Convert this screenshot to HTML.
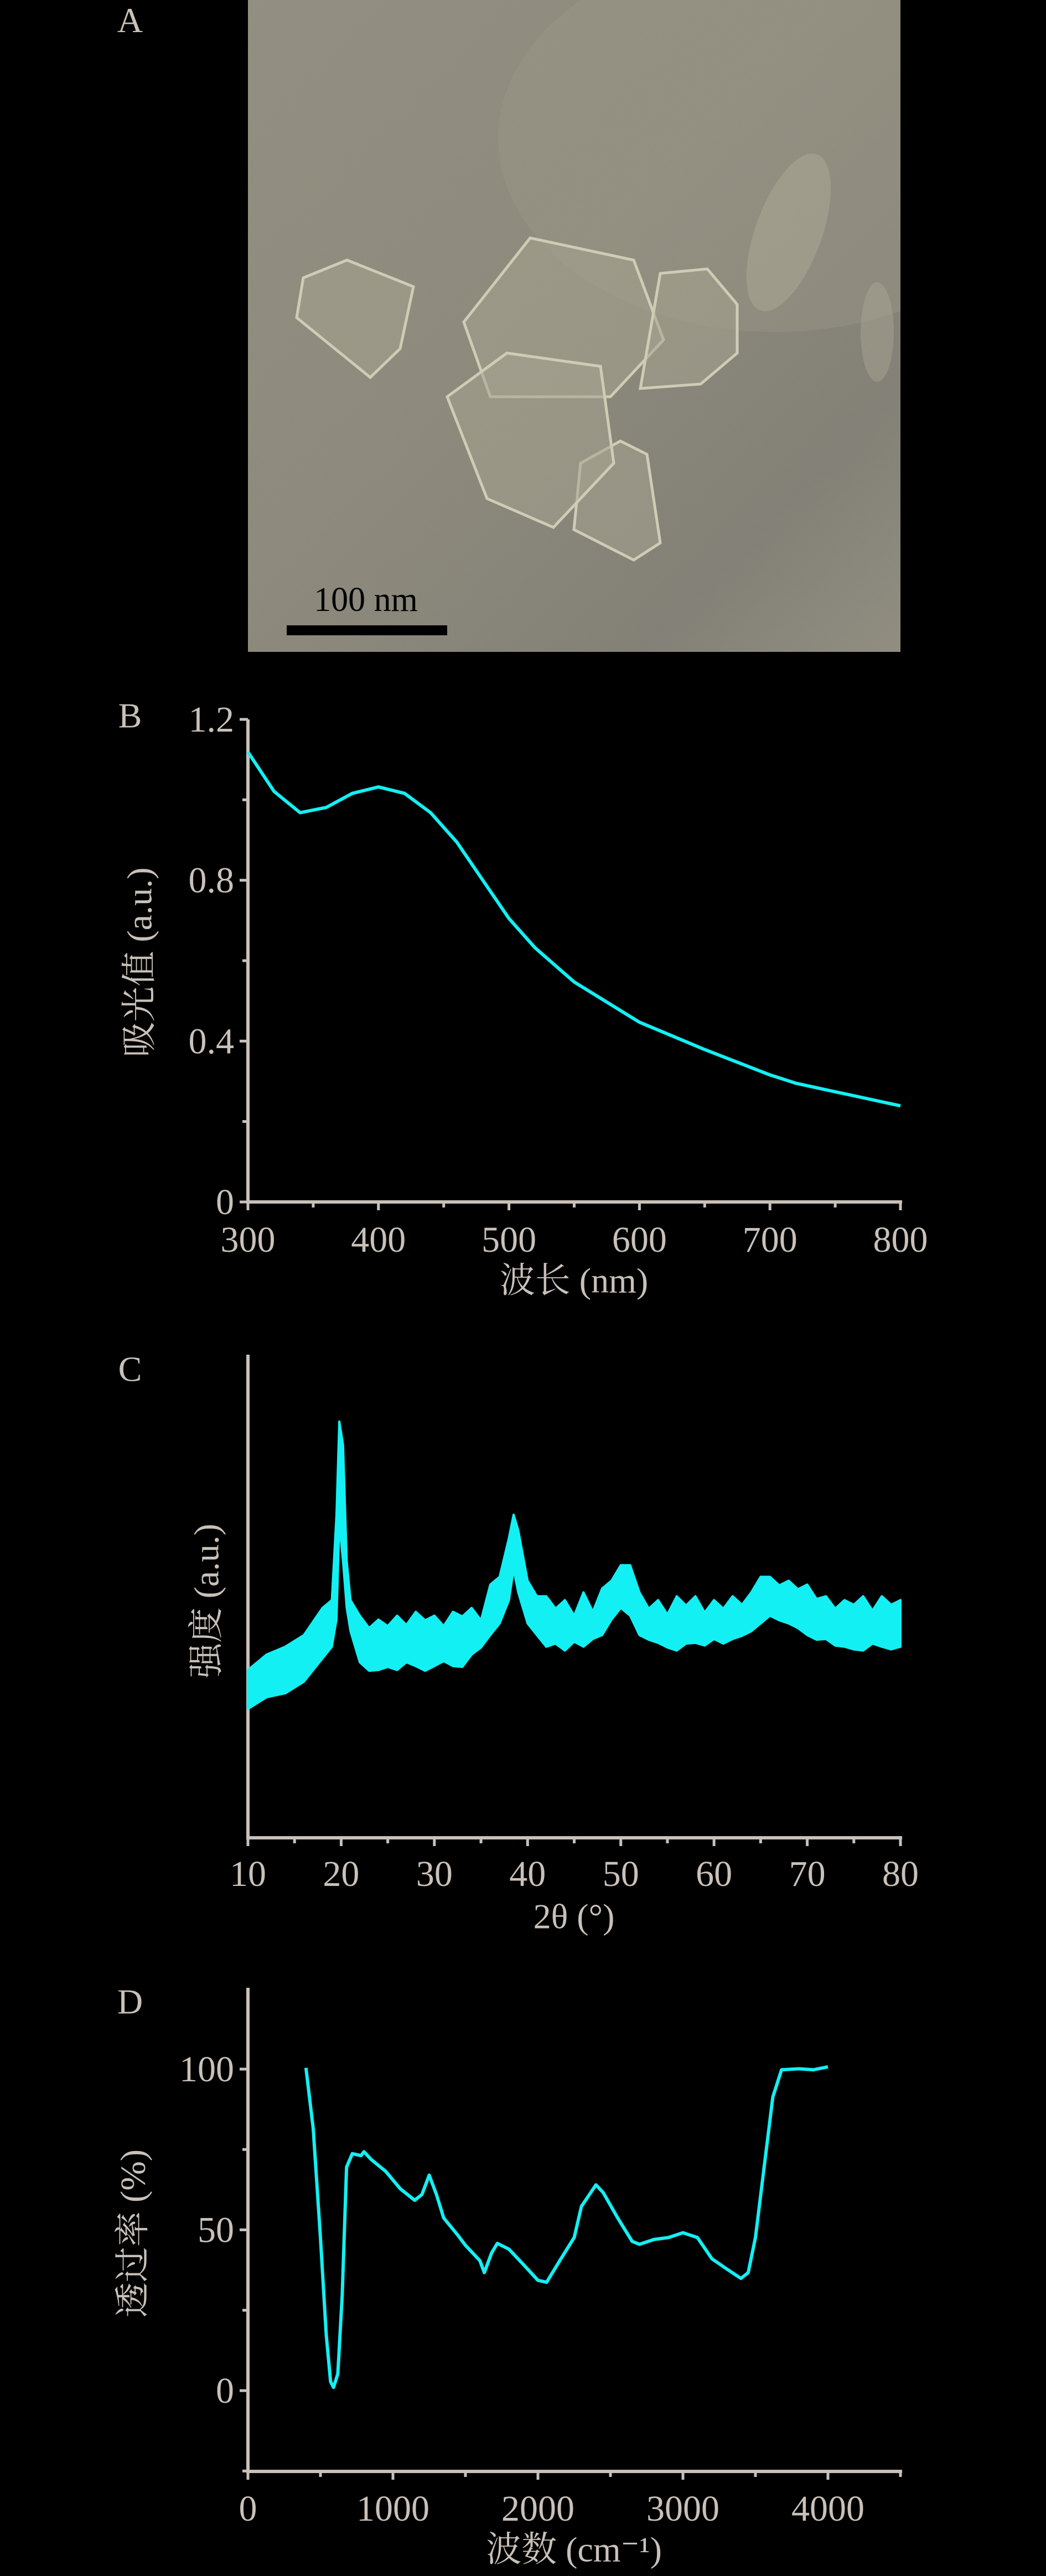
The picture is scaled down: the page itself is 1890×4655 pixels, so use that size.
<!DOCTYPE html>
<html><head><meta charset="utf-8"><style>
html,body{margin:0;padding:0;background:#000;}
svg{display:block;}
text{font-family:"Liberation Serif","Noto Serif CJK SC","Noto Sans CJK SC",serif;fill:#c9c1b9;}
</style></head><body>
<svg id="fig" width="1890" height="4655" viewBox="0 0 1890 4655" xmlns="http://www.w3.org/2000/svg">
<rect width="1890" height="4655" fill="#000"/>
<defs>
<linearGradient id="bg" x1="0" y1="0" x2="1" y2="1">
<stop offset="0" stop-color="#8f8c7d"/><stop offset="0.45" stop-color="#8a8778"/><stop offset="0.8" stop-color="#7f7c72"/><stop offset="1" stop-color="#8d8a7c"/>
</linearGradient>
<filter id="noise" x="0" y="0" width="1" height="1" filterUnits="objectBoundingBox"><feTurbulence type="fractalNoise" baseFrequency="0.9" numOctaves="2" result="n"/><feColorMatrix type="saturate" values="0"/><feComponentTransfer><feFuncA type="linear" slope="0.25"/></feComponentTransfer></filter>
<clipPath id="imgclip"><rect x="448" y="0" width="1179" height="1178"/></clipPath>
</defs>
<!-- Panel A -->
<g>
<text x="235" y="58" font-size="64" text-anchor="middle">A</text>
<g clip-path="url(#imgclip)">
<rect x="448" y="0" width="1179" height="1178" fill="url(#bg)"/>
<ellipse cx="1400" cy="250" rx="500" ry="350" fill="#9a9786" opacity="0.35"/>
<rect x="448" y="0" width="1179" height="1178" filter="url(#noise)" opacity="0.6"/>
<g fill="#a5a28f" fill-opacity="0.55" stroke="#cfccb6" stroke-width="5">
<polygon points="627,470 747,518 723,630 669,682 536,574 548,502"/>
<polygon points="958,430 1145,470 1199,614 1103,717 886,717 838,582"/>
<polygon points="1278,486 1332,550 1332,638 1266,694 1157,702 1193,494"/>
<polygon points="1121,797 1169,821 1193,981 1145,1012 1037,957 1049,837"/>
<polygon points="916,638 1085,662 1109,837 1000,953 880,901 808,717"/>
</g>
<ellipse cx="1425" cy="420" rx="60" ry="150" fill="#b0ad98" opacity="0.45" transform="rotate(20 1425 420)"/>
<ellipse cx="1585" cy="600" rx="30" ry="90" fill="#b0ad98" opacity="0.4"/>
</g>
<text x="661" y="1104" font-size="62" text-anchor="middle" style="fill:#000">100 nm</text>
<rect x="518" y="1130" width="290" height="18" fill="#000"/>
</g>
<g id="chartB"></g>
<g id="chartC"></g>
<g id="chartD"></g>
</svg>
<script>
const NS="http://www.w3.org/2000/svg";
const AX="#c9c1b9", LINE="#12f0f4";
// ---- Panel B data ----
const bWavelength=[300,320,340,360,380,400,420,440,460,480,500,520,550,600,650,700,720,750,800];
const bAbsorbance=[1.119,1.021,0.968,0.981,1.016,1.032,1.016,0.968,0.895,0.80,0.705,0.632,0.547,0.447,0.379,0.316,0.295,0.274,0.239];
const bXTicks=[300,400,500,600,700,800];
const bYTicks=[0,0.4,0.8,1.2];
// ---- Panel C data ----
const cAngle=[10,12,14,16,18,19,19.5,19.8,20.2,20.6,21,22,23,24,25,26,27,28,29,30,31,32,33,34,35,36,37,38,38.5,39,40,41,42,43,44,45,46,47,48,49,50,51,52,53,54,55,56,57,58,59,60,61,62,63,64,65,66,67,68,69,70,71,72,73,74,75,76,77,78,79,80];
const cUpper=[432,472,492,522,592,612,832,1072,1012,712,612,572,540,562,545,572,548,582,560,572,545,582,570,592,560,652,672,772,832,792,662,622,622,590,612,572,632,582,642,662,702,702,632,590,612,575,622,598,622,580,612,590,622,600,632,672,672,650,662,640,652,615,622,590,612,600,622,585,622,600,612];
const cLower=[332,362,372,402,462,492,562,812,712,592,532,452,430,432,440,432,452,442,430,442,455,442,440,472,490,522,552,612,692,632,552,522,492,500,482,505,492,512,522,562,592,572,522,510,502,490,482,500,502,495,512,500,512,520,532,552,572,560,552,540,522,510,512,495,492,485,482,500,492,485,492];
const cXTicks=[10,20,30,40,50,60,70,80];
// ---- Panel D data ----
const dWavenumber=[400,450,500,540,570,590,620,650,680,720,780,800,850,950,1050,1150,1200,1250,1300,1350,1450,1500,1600,1630,1680,1720,1800,1900,2000,2060,2150,2250,2300,2400,2450,2550,2650,2700,2800,2900,3000,3100,3200,3300,3400,3450,3500,3560,3620,3680,3800,3900,4000];
const dTransmittance=[100.4,81.6,47.6,17.3,2.8,1.0,5.2,29.5,69.5,73.7,73.1,74.3,71.9,68.2,62.8,59.2,61.0,67.0,61.0,53.7,48.2,45.2,40.4,36.7,42.8,45.8,44.0,39.2,34.3,33.7,40.4,47.6,57.3,64.0,61.6,53.7,46.4,45.5,47.0,47.6,49.1,47.6,41.0,37.9,34.9,36.7,47.6,69.5,91.3,99.8,100.1,99.8,100.7];
const dXTicks=[0,1000,2000,3000,4000];
const dYTicks=[0,50,100];

function el(parent,tag,attrs,text){const e=document.createElementNS(NS,tag);for(const k in attrs)e.setAttribute(k,attrs[k]);if(text!==undefined)e.textContent=text;parent.appendChild(e);return e;}
function lin(d0,d1,r0,r1){return v=>r0+(v-d0)/(d1-d0)*(r1-r0);}

function axes(g,o){
  const a=el(g,'line',{x1:o.x0,y1:o.yTop,x2:o.x0,y2:o.yBot+3,stroke:AX,'stroke-width':6});
  
  
  const b=el(g,'line',{x1:o.x0-3,y1:o.yBot,x2:o.x1+3,y2:o.yBot,stroke:AX,'stroke-width':6});
  
  
  o.xMinor.forEach(v=>{const x=o.xs(v);const t=el(g,'line',{x1:x,y1:o.yBot,x2:x,y2:o.yBot+(o.xMajor.includes(v)?15:10),stroke:AX,'stroke-width':5});
    
    });
  o.xMajor.forEach(v=>{const t=el(g,'text',{x:o.xs(v),y:o.xLabelY,'font-size':66,'text-anchor':'middle'},String(v));
    
    });
  o.yMinor.forEach(v=>{const y=o.ys(v);const t=el(g,'line',{x1:o.x0-(o.yMajor.includes(v)?15:10),y1:y,x2:o.x0,y2:y,stroke:AX,'stroke-width':5});
    
    });
  o.yMajor.forEach(v=>{const t=el(g,'text',{x:o.x0-25,y:o.ys(v)+22,'font-size':66,'text-anchor':'end'},String(v));
    
    });
}
function label(g,txt,x,y,rot,name,size){const t=el(g,'text',{x:x,y:y,'font-size':size||64,'text-anchor':'middle','dominant-baseline':'middle',transform:rot?`rotate(-90 ${x} ${y})`:''},txt);
  
  return t;}

// Panel B
(function(){
  const g=document.getElementById('chartB');
  const xs=lin(300,800,448,1627), ys=lin(0,1.2,2172,1300);
  const xm=[];for(let v=300;v<=800;v+=50)xm.push(v);
  const ym=[];for(let i=0;i<=6;i++)ym.push(+(i*0.2).toFixed(1));
  axes(g,{x0:448,x1:1627,yTop:1300,yBot:2172,xs,ys,xMajor:bXTicks,xMinor:xm,yMajor:bYTicks,yMinor:ym,xLabelY:2262});
  label(g,'B',235,1300,false,'panel-b-label');
  label(g,'吸光值 (a.u.)',259,1739,true,'y-axis-title');
  label(g,'波长 (nm)',1037,2321,false,'x-axis-title');
  const p=el(g,'path',{d:bWavelength.map((w,i)=>(i?'L':'M')+xs(w).toFixed(1)+','+ys(bAbsorbance[i]).toFixed(1)).join(''),fill:'none',stroke:LINE,'stroke-width':6,'stroke-linejoin':'round'});
  
  
})();
// Panel C
(function(){
  const g=document.getElementById('chartC');
  const xs=lin(10,80,448,1627), ys=lin(0,1244,3321,2448);
  const xm=[];for(let v=10;v<=80;v+=5)xm.push(v);
  axes(g,{x0:448,x1:1627,yTop:2448,yBot:3321,xs,ys,xMajor:cXTicks,xMinor:xm,yMajor:[],yMinor:[],xLabelY:3408});
  label(g,'C',235,2481,false,'panel-c-label');
  label(g,'强度 (a.u.)',380,2893,true,'y-axis-title');
  label(g,'2θ (°)',1037,3470,false,'x-axis-title');
  const up=cAngle.map((a,i)=>xs(a).toFixed(1)+','+ys(cUpper[i]).toFixed(1));
  const lo=cAngle.map((a,i)=>xs(a).toFixed(1)+','+ys(cLower[i]).toFixed(1)).reverse();
  const p=el(g,'polygon',{points:up.concat(lo).join(' '),fill:LINE,stroke:LINE,'stroke-width':4,'stroke-linejoin':'round'});
  
  
})();
// Panel D
(function(){
  const g=document.getElementById('chartD');
  const xs=lin(0,4500,448,1627), ys=lin(0,100,4320,3739);
  const xm=[];for(let v=0;v<=4500;v+=500)xm.push(v);
  const ym=[-25,0,25,50,75,100];
  axes(g,{x0:448,x1:1627,yTop:3592,yBot:4466,xs,ys,xMajor:dXTicks,xMinor:xm,yMajor:dYTicks,yMinor:ym,xLabelY:4555});
  label(g,'D',235,3624,false,'panel-d-label');
  label(g,'透过率 (%)',247,4036,true,'y-axis-title');
  label(g,'波数 (cm⁻¹)',1037,4614,false,'x-axis-title');
  const p=el(g,'path',{d:dWavenumber.map((w,i)=>(i?'L':'M')+xs(w).toFixed(1)+','+ys(dTransmittance[i]).toFixed(1)).join(''),fill:'none',stroke:LINE,'stroke-width':6,'stroke-linejoin':'round'});
  
  
})();
</script>
</body></html>
